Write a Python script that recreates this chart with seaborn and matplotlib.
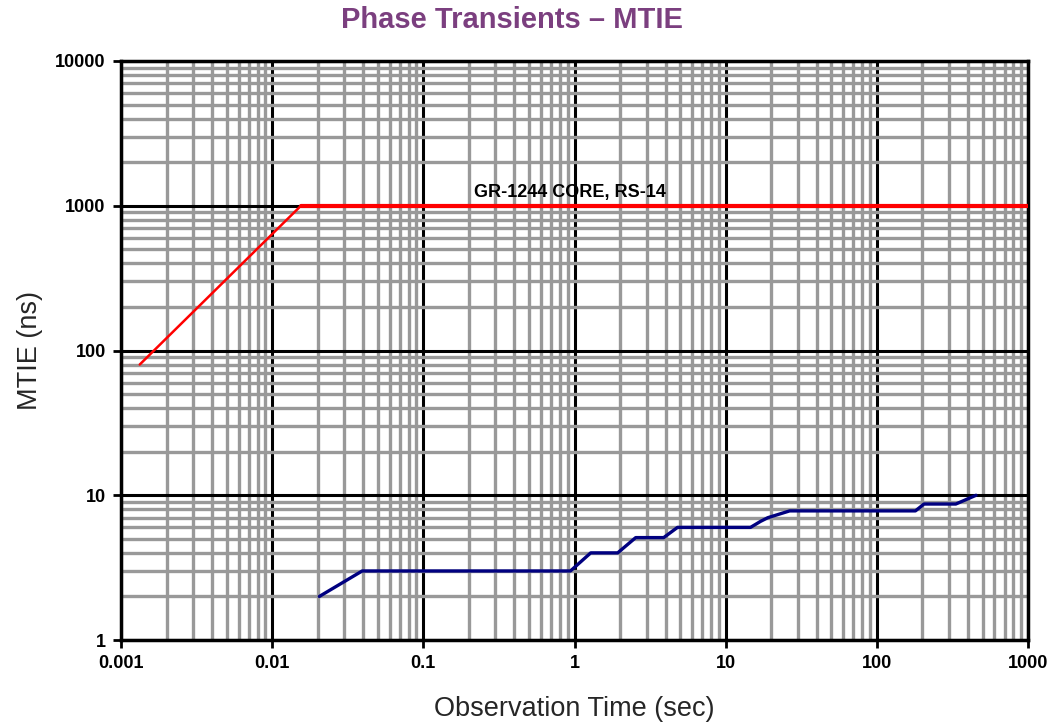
import numpy as np
import pandas as pd
import matplotlib
matplotlib.use("Agg")
import matplotlib.pyplot as plt
import matplotlib.ticker as mticker
import seaborn as sns

# limite GR-1244 (rampa y tramo constante)
mascara_rampa_x = [0.00133, 0.0155]
mascara_rampa_y = [80, 1000]
mascara_plana_x = [0.0155, 1000]
mascara_plana_y = [1000, 1000]

# MTIE medido (mesetas unidas por tramos inclinados)
medido_x = [0.0205, 0.0394, 0.94, 1.28, 1.93, 2.54, 3.89, 4.8,
            14.6, 17.0, 19.0, 26.5, 180, 205, 333, 453]
medido_y = [2.0, 3.0, 3.0, 4.0, 4.0, 5.1, 5.1, 6.0,
            6.0, 6.6, 7.0, 7.8, 7.8, 8.7, 8.7, 10.0]

ticks_x = [0.001, 0.01, 0.1, 1, 10, 100, 1000]
etiquetas_x = ["0.001", "0.01", "0.1", "1", "10", "100", "1000"]
ticks_y = [1, 10, 100, 1000, 10000]
etiquetas_y = ["1", "10", "100", "1000", "10000"]

sns.set_style("white")
plt.rcParams['font.family'] = ['Liberation Sans', 'DejaVu Sans']

fig = plt.figure(figsize=(10.56, 7.25), dpi=100)
ax = fig.add_axes([0.1146, 0.1172, 0.8589, 0.7987])
ax.set_xscale("log")
ax.set_yscale("log")
ax.set_xlim(0.001, 1000)
ax.set_ylim(1, 10000)

# cuadricula
ax.xaxis.set_minor_locator(mticker.LogLocator(base=10, subs=np.arange(2, 10)))
ax.yaxis.set_minor_locator(mticker.LogLocator(base=10, subs=np.arange(2, 10)))
ax.grid(True, which="minor", color="#999999", linewidth=2.4, zorder=0)
ax.grid(True, which="major", color="black", linewidth=2.2, zorder=1)
ax.set_axisbelow(True)

df_rampa = pd.DataFrame({"x": mascara_rampa_x, "y": mascara_rampa_y})
df_plana = pd.DataFrame({"x": mascara_plana_x, "y": mascara_plana_y})
df_medido = pd.DataFrame({"x": medido_x, "y": medido_y})

sns.lineplot(data=df_rampa, x="x", y="y", ax=ax, color="#ff0000", linewidth=1.8, zorder=3)
sns.lineplot(data=df_plana, x="x", y="y", ax=ax, color="#ff0000", linewidth=3, zorder=3)
sns.lineplot(data=df_medido, x="x", y="y", ax=ax, color="#000080", linewidth=2.4,
             sort=False, zorder=3)

ax.text(0.93, 1080, "GR-1244 CORE, RS-14", ha="center", va="bottom", fontsize=13,
        fontweight="bold", color="black", zorder=4)

ax.xaxis.set_major_locator(mticker.FixedLocator(ticks_x))
ax.xaxis.set_major_formatter(mticker.FixedFormatter(etiquetas_x))
ax.yaxis.set_major_locator(mticker.FixedLocator(ticks_y))
ax.yaxis.set_major_formatter(mticker.FixedFormatter(etiquetas_y))
ax.tick_params(axis="both", which="major", length=6, width=2, direction="out",
               labelsize=13, colors="black", pad=5)
ax.tick_params(axis="both", which="minor", length=0)
ax.tick_params(axis="both", which="major", bottom=True, left=True)
for lbl in ax.get_xticklabels() + ax.get_yticklabels():
    lbl.set_fontweight("bold")

for lado in ["left", "right", "top", "bottom"]:
    ax.spines[lado].set_visible(True)
    ax.spines[lado].set_color("black")
    ax.spines[lado].set_linewidth(2.5)

ax.set_xlabel("Observation Time (sec)", fontsize=19.5, labelpad=17)
ax.set_ylabel("MTIE (ns)", fontsize=19.5, labelpad=9)
fig.text(0.485, 0.972, "Phase Transients \u2013 MTIE", ha="center", va="center",
         fontsize=21, fontweight="bold", color="#7b3f7f")

fig.savefig("out.png", dpi=100)
